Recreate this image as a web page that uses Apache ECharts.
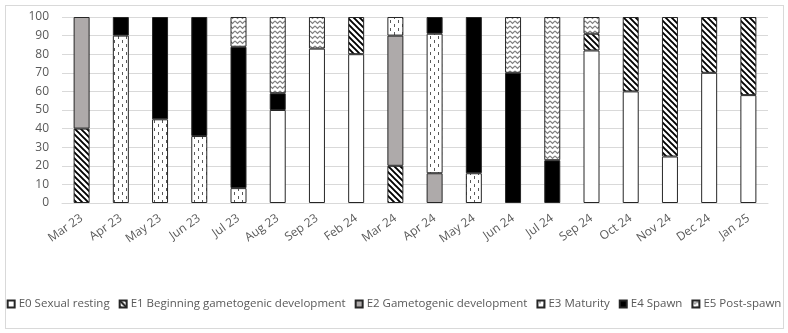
<!DOCTYPE html>
<html>
<head>
<meta charset="utf-8">
<script src="https://cdn.jsdelivr.net/npm/echarts@6/dist/echarts.min.js"></script>
<style>
  html, body { margin: 0; padding: 0; background: #fff; }
  #frame { position: absolute; left: 5px; top: 5px; width: 777px; height: 322px; border: 1px solid #d9d9d9; }
  #chart { width: 788px; height: 333px; }
</style>
</head>
<body>
<div id="frame"></div>
<div id="chart"></div>
<script>
var months = ['Mar 23','Apr 23','May 23','Jun 23','Jul 23','Aug 23','Sep 23','Feb 24','Mar 24',
  'Apr 24','May 24','Jun 24','Jul 24','Sep 24','Oct 24','Nov 24','Dec 24','Jan 25'];
var names = ['E0 Sexual resting','E1 Beginning gametogenic development','E2 Gametogenic development',
  'E3 Maturity','E4 Spawn','E5 Post-spawn'];
var e0 = [0,0,0,0,0,50,83,80,0,0,0,0,0,82,60,25,70,58];
var e1 = [40,0,0,0,0,0,0,20,20,0,0,0,0,9,40,75,30,42];
var e2 = [60,0,0,0,0,0,0,0,70,16,0,0,0,0,0,0,0,0];
var e3 = [0,90,45,36,8,0,0,0,10,75,16,0,0,0,0,0,0,0];
var e4 = [0,10,55,64,76,9,0,0,0,9,84,70,23,0,0,0,0,0];
var e5 = [0,0,0,0,16,41,17,0,0,0,0,30,77,9,0,0,0,0];
var yTicks = [0,100,10];

// canvas fills for the hatched stages
function tile(w, h, draw) {
  var c = document.createElement('canvas');
  c.width = w; c.height = h;
  var ctx = c.getContext('2d');
  ctx.fillStyle = '#fff';
  ctx.fillRect(0, 0, w, h);
  draw(ctx);
  return { image: c, repeat: 'repeat' };
}
var stripes = tile(6, 6, function (ctx) {
  ctx.strokeStyle = '#000';
  ctx.lineWidth = 1.9;
  ctx.beginPath();
  ctx.moveTo(-1, -1); ctx.lineTo(7, 7);
  ctx.moveTo(-4, 2); ctx.lineTo(1, 7);
  ctx.moveTo(5, -1); ctx.lineTo(7, 1);
  ctx.stroke();
});
var dashes = tile(8, 8, function (ctx) {
  ctx.fillStyle = '#595959';
  ctx.fillRect(2, 0, 1, 3);
  ctx.fillRect(6, 4, 1, 3);
});
var zigzag = tile(5, 5, function (ctx) {
  ctx.strokeStyle = '#7f7f7f';
  ctx.lineWidth = 1.2;
  ctx.beginPath();
  ctx.moveTo(0, 1); ctx.lineTo(2.5, 3.5); ctx.lineTo(5, 1);
  ctx.stroke();
});

var fills = ['#ffffff', stripes, '#aeaaaa', dashes, '#000000', zigzag];
var values = [e0, e1, e2, e3, e4, e5];

var chart = echarts.init(document.getElementById('chart'));
chart.setOption({
  animation: false,
  textStyle: { fontFamily: 'Open Sans' },
  grid: { left: 62, right: 20, top: 17, bottom: 130 },
  legend: {
    top: 293,
    left: 'center',
    itemWidth: 7,
    itemHeight: 7,
    itemGap: 9,
    icon: 'rect',
    textStyle: { color: '#595959', fontSize: 11.5, fontFamily: 'Open Sans', padding: [0, 0, 0, -1] },
    data: names
  },
  xAxis: {
    type: 'category',
    data: months,
    axisLine: { lineStyle: { color: '#d9d9d9' } },
    axisTick: { show: false },
    axisLabel: { rotate: 35, color: '#595959', fontSize: 12, margin: 14, interval: 0 }
  },
  yAxis: {
    type: 'value',
    min: yTicks[0],
    max: yTicks[1],
    interval: yTicks[2],
    axisLine: { show: false },
    axisTick: { show: false },
    splitLine: { lineStyle: { color: '#d9d9d9' } },
    axisLabel: { color: '#595959', fontSize: 12, margin: 13 }
  },
  series: names.map(function (n, i) {
    return {
      name: n,
      type: 'bar',
      stack: 'all',
      barWidth: 16,
      itemStyle: { color: fills[i], borderColor: '#262626', borderWidth: 1 },
      data: values[i].map(function (v) { return v === 0 ? '-' : v; })
    };
  })
});
</script>
</body>
</html>
